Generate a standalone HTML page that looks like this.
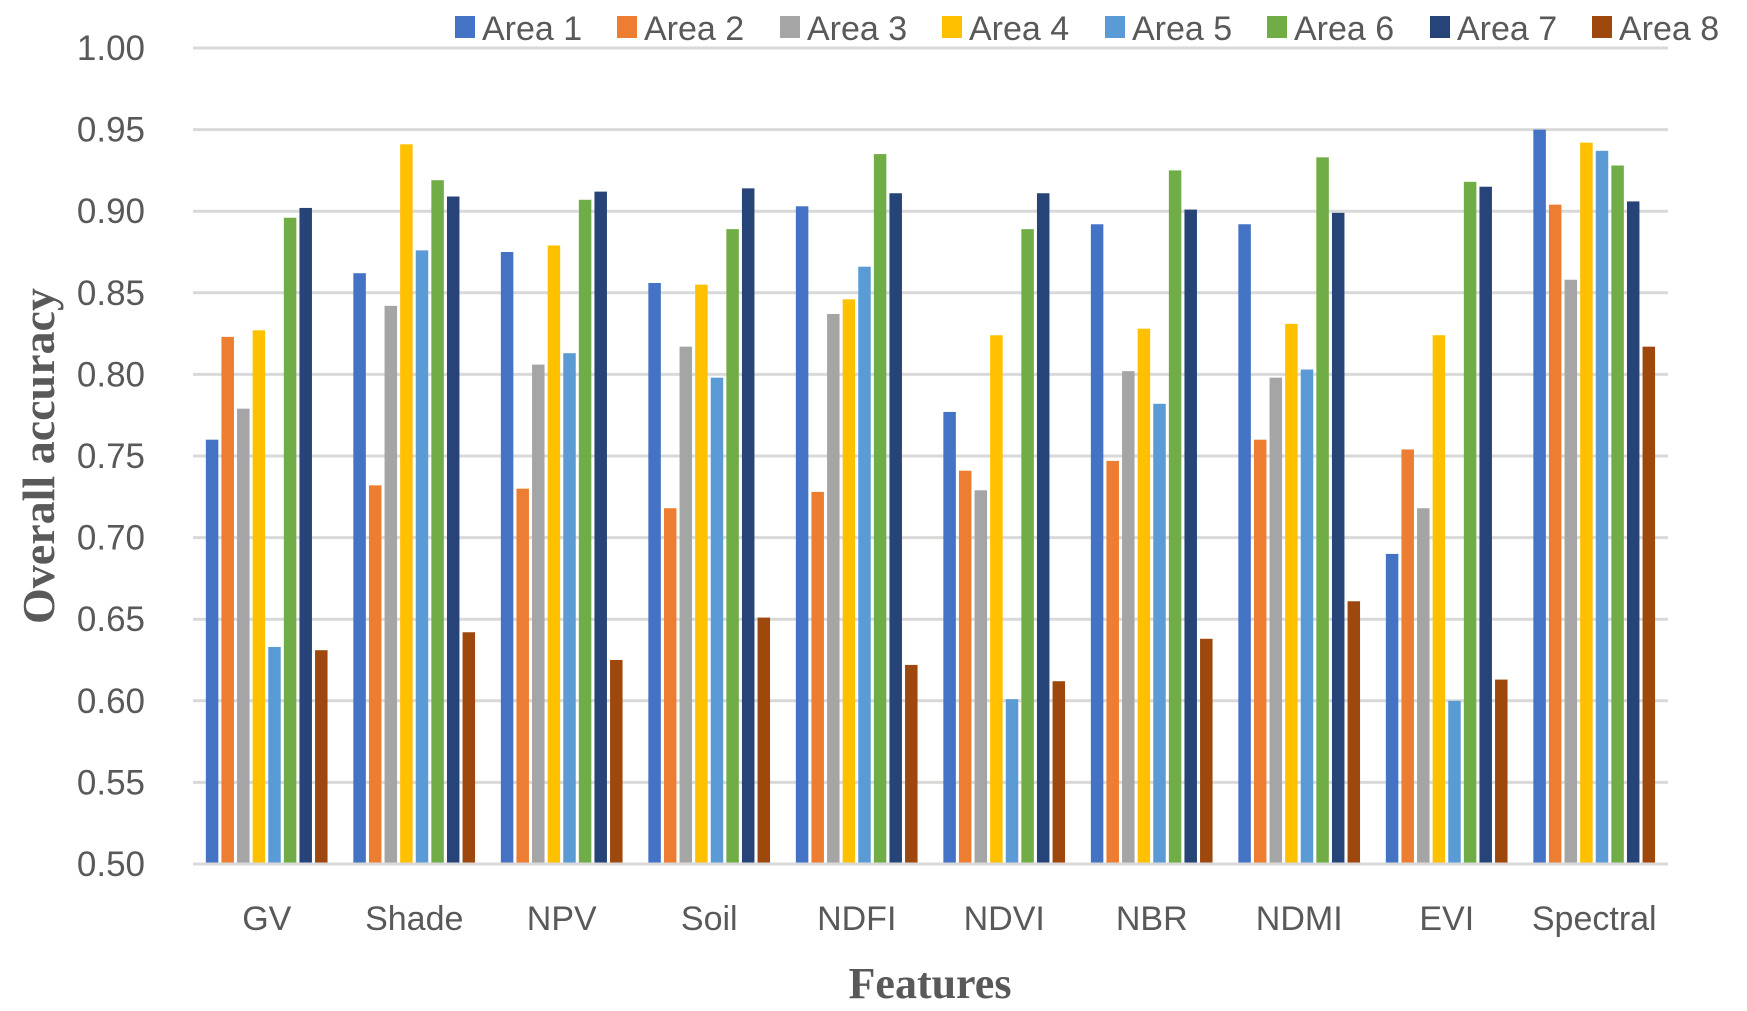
<!DOCTYPE html>
<html><head><meta charset="utf-8"><style>
html,body{margin:0;padding:0;background:#fff;}
svg{display:block;}
text{fill:#595959;}
</style></head><body>
<svg id="chart" width="1747" height="1011" xmlns="http://www.w3.org/2000/svg">
<g id="grid"></g>
<g id="yticks"></g>
<g id="bars"></g>
<g id="xlabels"></g>
<g id="legend"></g>
<text transform="translate(54,456) rotate(-90)" text-anchor="middle" font-family="Liberation Serif, serif" font-weight="bold" font-size="46">Overall accuracy</text>
<text x="930" y="998" text-anchor="middle" font-family="Liberation Serif, serif" font-weight="bold" font-size="44">Features</text>
</svg>
<script>
const categories = ["GV","Shade","NPV","Soil","NDFI","NDVI","NBR","NDMI","EVI","Spectral"];
const seriesNames = ["Area 1","Area 2","Area 3","Area 4","Area 5","Area 6","Area 7","Area 8"];
const area1 = [0.760,0.862,0.875,0.856,0.903,0.777,0.892,0.892,0.690,0.950];
const area2 = [0.823,0.732,0.730,0.718,0.728,0.741,0.747,0.760,0.754,0.904];
const area3 = [0.779,0.842,0.806,0.817,0.837,0.729,0.802,0.798,0.718,0.858];
const area4 = [0.827,0.941,0.879,0.855,0.846,0.824,0.828,0.831,0.824,0.942];
const area5 = [0.633,0.876,0.813,0.798,0.866,0.601,0.782,0.803,0.600,0.937];
const area6 = [0.896,0.919,0.907,0.889,0.935,0.889,0.925,0.933,0.918,0.928];
const area7 = [0.902,0.909,0.912,0.914,0.911,0.911,0.901,0.899,0.915,0.906];
const area8 = [0.631,0.642,0.625,0.651,0.622,0.612,0.638,0.661,0.613,0.817];
const yTicks = [0.50,0.55,0.60,0.65,0.70,0.75,0.80,0.85,0.90,0.95,1.00];
const series = [area1,area2,area3,area4,area5,area6,area7,area8];
const colors = ["#4472C4","#ED7D31","#A5A5A5","#FFC000","#5B9BD5","#70AD47","#264478","#9E480E"];
const NS="http://www.w3.org/2000/svg";
const X0=193,X1=1668,Y0=864,Y1=48,VMIN=0.5,VMAX=1.0;
const yScale=v=>Y0-(v-VMIN)/(VMAX-VMIN)*(Y0-Y1);
const groupW=(X1-X0)/categories.length;
const pitch=15.6,barW=12.5,off=(groupW-pitch*8)/2+1.5;
function mk(tag,attrs,parent){const e=document.createElementNS(NS,tag);for(const k in attrs)e.setAttribute(k,attrs[k]);parent.appendChild(e);return e;}
const grid=document.getElementById('grid'),yt=document.getElementById('yticks');
yTicks.forEach(t=>{
  const y=yScale(t);
  const l=mk('line',{x1:X0,x2:X1,y1:y,y2:y,stroke:'#d9d9d9','stroke-width':3},grid);
  
  
  const tx=mk('text',{x:145,y:y+12,'text-anchor':'end','font-family':'Liberation Sans, sans-serif','font-size':35},yt);
  tx.textContent=t.toFixed(2);
  
  
});
const bars=document.getElementById('bars'),xl=document.getElementById('xlabels');
categories.forEach((c,i)=>{
  const gx=X0+i*groupW;
  series.forEach((s,j)=>{
    const y=yScale(s[i]);
    const r=mk('rect',{x:gx+off+j*pitch,y:y,width:barW,height:Y0-1.5-y,fill:colors[j]},bars);
    
    
  });
  const t=mk('text',{x:gx+groupW/2,y:930,'text-anchor':'middle','font-family':'Liberation Sans, sans-serif','font-size':34},xl);
  t.textContent=c;
  
  
});
const lg=document.getElementById('legend');
const lx=[455,617,780,942,1105,1267,1430,1592];
seriesNames.forEach((n,j)=>{
  const g=mk('g',{},lg);
  
  
  mk('rect',{x:lx[j],y:16,width:20,height:22,fill:colors[j]},g);
  const t=mk('text',{x:lx[j]+27,y:40,'font-family':'Liberation Sans, sans-serif','font-size':34},g);
  t.textContent=n;
});
</script>
</body></html>
